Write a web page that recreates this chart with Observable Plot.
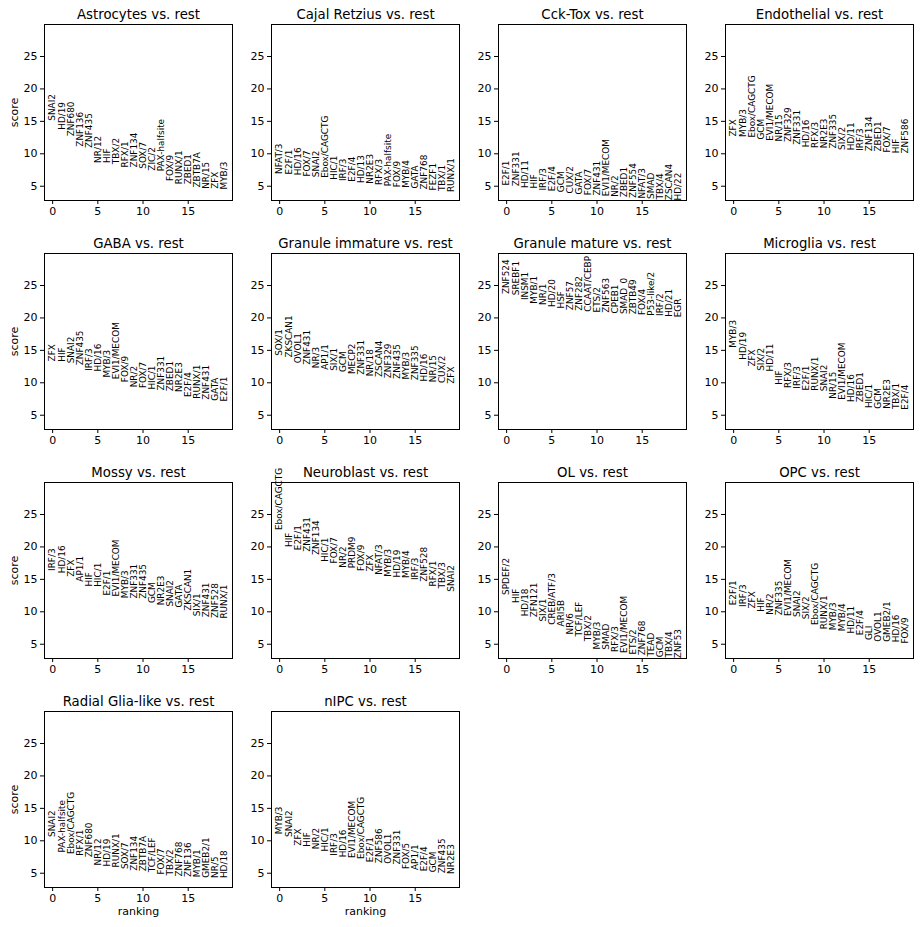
<!DOCTYPE html>
<html>
<head>
<meta charset="utf-8">
<script src="https://cdn.jsdelivr.net/npm/d3@7"></script>
<script src="https://cdn.jsdelivr.net/npm/@observablehq/plot@0.6"></script>
<style>
  body { margin: 0; background: #fff; }
  #fig { position: relative; width: 920px; height: 927px; background: #fff; font-family: "DejaVu Sans", sans-serif; }
  #fig svg { position: absolute; overflow: visible; }
</style>
</head>
<body>
<div id="fig"></div>
<script>
// Top 20 motifs per cluster, ranked by score (cluster vs. rest)
const groupTitles = ["Astrocytes", "Cajal Retzius", "Cck-Tox", "Endothelial", "GABA", "Granule immature",
  "Granule mature", "Microglia", "Mossy", "Neuroblast", "OL", "OPC", "Radial Glia-like", "nIPC"];

const astrocytesNames = ["SNAI2", "HD/19", "ZNF680", "ZNF136", "ZNF435", "NR/12", "HIF", "TBX/2", "RFX/1", "ZNF134",
  "SOX/7", "ZIC/2", "PAX-halfsite", "FOX/9", "RUNX/1", "ZBED1", "ZBTB7A", "NR/15", "ZFX", "MYB/3"];
const astrocytesScores = [15.1, 13.7, 12.7, 11.1, 10.9, 8.6, 8.6, 8.4, 7.9, 7.9, 7.7, 7.4, 7.3, 5.8, 5.3, 5.3, 4.8, 4.6, 4.6, 4.5];

const cajalNames = ["NFAT/3", "E2F/1", "HD/16", "FOX/7", "SNAI2", "Ebox/CAGCTG", "HIC/1", "IRF/3", "E2F/4", "HD/13",
  "NR2E3", "RFX/3", "PAX-halfsite", "FOX/9", "MYB/4", "GATA", "ZNF768", "FEZF1", "TBX/1", "RUNX/1"];
const cajalScores = [6.9, 6.8, 6.7, 6.5, 6.4, 6.3, 6.0, 5.8, 5.7, 5.5, 5.4, 5.2, 5.0, 4.85, 4.75, 4.65, 4.5, 4.35, 4.25, 4.1];

const cckToxNames = ["E2F/1", "ZNF331", "HD/11", "HIF", "IRF/3", "E2F/4", "GCM", "CUX/2", "GATA", "FOX/7",
  "ZNF431", "EVI1/MECOM", "NR/2", "ZBED1", "ZNF554", "NFAT/3", "SMAD", "TBX/4", "ZSCAN4", "HD/22"];
const cckToxScores = [5.1, 5.0, 4.74, 4.65, 4.34, 4.23, 4.08, 3.88, 3.73, 3.62, 3.57, 3.47, 3.36, 3.31, 3.2, 3.1, 3.05, 2.96, 2.85, 2.8];

const endothelialNames = ["ZFX", "MYB/3", "Ebox/CAGCTG", "GCM", "EVI1/MECOM", "NR/15", "ZNF329", "ZNF331", "HD/16", "RFX/3",
  "NR2E3", "ZNF335", "SIX/2", "HD/11", "IRF/3", "ZNF134", "ZBED1", "FOX/7", "HIF", "ZNF586"];
const endothelialScores = [12.67, 12.6, 12.5, 12.2, 12.0, 11.9, 11.8, 11.4, 11.0, 10.9, 10.85, 10.8, 10.6, 10.55, 10.45, 10.4, 10.35, 10.2, 10.1, 10.05];

const gabaNames = ["ZFX", "HIF", "SNAI2", "ZNF435", "IRF/3", "HD/16", "MYB/3", "EVI1/MECOM", "FOX/9", "NR/2",
  "FOX/7", "HIC/1", "ZNF331", "ZBED1", "NR2E3", "E2F/4", "RUNX/1", "ZNF431", "GATA", "E2F/1"];
const gabaScores = [13.3, 13.25, 13.0, 12.7, 11.85, 11.75, 10.8, 10.55, 10.1, 9.3, 9.2, 8.95, 8.8, 8.7, 8.6, 7.8, 7.55, 7.4, 7.25, 7.1];

const granuleImmatureNames = ["SOX/1", "ZKSCAN1", "OVOL1", "ZNF431", "NR/3", "AP1/1", "SIX/1", "GCM", "MECP2", "ZNF331",
  "NR/18", "ZSCAN4", "ZNF329", "ZNF435", "MYB/3", "ZNF335", "HD/16", "NR/15", "CUX/2", "ZFX"];
const granuleImmatureScores = [14.15, 13.9, 13.0, 12.8, 12.25, 12.0, 11.85, 11.65, 11.35, 11.25, 11.0, 10.9, 10.7, 10.6, 10.5, 10.4, 10.2, 10.1, 9.95, 9.85];

const granuleMatureNames = ["ZNF524", "SREBF1", "INSM1", "MYB/1", "NR/1", "HD/20", "HSF", "ZNF57", "ZNF282", "CCAAT/CEBP",
  "ETS/2", "ZNF563", "CPEB1", "SMAD_0", "ZBTB49", "FOX/4", "P53-like/2", "IRF/2", "HD/21", "EGR"];
const granuleMatureScores = [23.67, 23.5, 22.75, 22.2, 22.0, 21.7, 21.45, 21.2, 21.1, 20.95, 20.85, 20.8, 20.7, 20.6, 20.55, 20.45, 20.35, 20.3, 20.2, 20.1];

const microgliaNames = ["MYB/3", "HD/19", "ZFX", "SIX/2", "HD/11", "HIF", "RFX/3", "IRF/3", "E2F/1", "RUNX/1",
  "SNAI2", "NR/15", "EVI1/MECOM", "HD/16", "ZBED1", "HIC/1", "GCM", "NR2E3", "TBX/1", "E2F/4"];
const microgliaScores = [15.4, 13.55, 12.5, 11.85, 11.75, 9.7, 9.2, 9.1, 8.8, 8.78, 8.7, 7.55, 7.4, 7.05, 7.0, 6.1, 6.0, 5.98, 5.95, 5.85];

const mossyNames = ["IRF/3", "HD/16", "ZFX", "AP1/1", "HIF", "HIC/1", "E2F/1", "EVI1/MECOM", "MYB/3", "ZNF331",
  "ZNF435", "GCM", "NR2E3", "SNAI2", "GATA", "ZKSCAN1", "SIX/1", "ZNF431", "ZNF528", "RUNX/1"];
const mossyScores = [16.3, 15.95, 15.4, 14.65, 13.9, 13.85, 12.5, 12.35, 12.1, 12.05, 12.0, 11.35, 11.0, 10.8, 10.65, 10.15, 9.3, 9.15, 9.05, 8.95];

const neuroblastNames = ["Ebox/CAGCTG", "HIF", "E2F/1", "ZNF431", "ZNF134", "HIC/1", "FOX/7", "NR/2", "PRDM9", "FOX/9",
  "ZFX", "NFAT/3", "MYB/3", "HD/19", "MYB/4", "IRF/3", "ZNF528", "RFX/1", "TBX/3", "SNAI2"];
const neuroblastScores = [22.6, 20.0, 19.5, 19.25, 18.75, 17.7, 17.45, 16.8, 16.7, 16.3, 16.2, 15.7, 15.4, 15.3, 15.2, 14.9, 14.65, 13.9, 13.6, 13.1];

const olNames = ["SPDEF/2", "HIF", "HD/18", "ZFN121", "SIX/1", "CREB/ATF/3", "ARI5B", "NR/6", "TCF/LEF", "TBX/2",
  "MYB/3", "SMAD", "RFX/3", "EVI1/MECOM", "ETS/2", "ZNF768", "TEAD", "GCM", "TBX/4", "ZNF53"];
const olScores = [12.6, 11.35, 9.3, 9.15, 8.5, 8.0, 7.75, 6.5, 6.2, 5.45, 4.2, 4.15, 3.8, 3.65, 3.4, 3.3, 3.1, 3.0, 2.95, 2.85];

const opcNames = ["E2F/1", "IRF/3", "ZFX", "HIF", "NR/2", "ZNF335", "EVI1/MECOM", "SNAI2", "SIX/2", "Ebox/CAGCTG",
  "RUNX/1", "MYB/3", "MYB/4", "HD/11", "E2F/4", "GLI", "OVOL1", "GMEB2/1", "HD/16", "FOX/9"];
const opcScores = [11.0, 10.75, 10.5, 10.0, 9.55, 9.45, 9.35, 9.2, 8.85, 7.95, 7.3, 7.15, 7.0, 6.65, 6.4, 5.65, 5.4, 5.38, 5.3, 5.1];

const radialGliaNames = ["SNAI2", "PAX-halfsite", "Ebox/CAGCTG", "RFX/1", "ZNF680", "NR/12", "HD/19", "RUNX/1", "SOX/7", "ZNF134",
  "ZBTB7A", "TCF/LEF", "FOX/7", "TBX/2", "ZNF768", "ZNF136", "MYB/1", "GMEB2/1", "NR/5", "HD/18"];
const radialGliaScores = [10.6, 8.2, 7.95, 7.7, 7.45, 6.2, 6.05, 5.9, 5.65, 5.4, 5.3, 5.15, 4.8, 4.65, 4.5, 4.4, 4.38, 4.3, 4.28, 4.25];

const nipcNames = ["MYB/3", "SNAI2", "ZFX", "HIF", "NR/2", "HIC/1", "IRF/3", "HD/16", "EVI1/MECOM", "Ebox/CAGCTG",
  "E2F/1", "ZNF586", "OVOL1", "ZNF331", "FOX/5", "AP1/1", "E2F/4", "GCM", "ZNF435", "NR2E3"];
const nipcScores = [11.0, 10.6, 9.25, 9.1, 8.7, 8.35, 7.7, 7.45, 7.35, 7.2, 6.7, 6.55, 6.45, 6.35, 5.65, 5.5, 5.3, 5.15, 5.0, 4.9];

const xTicks = [0, 5, 10, 15];
const yTicks = [5, 10, 15, 20, 25];

const panels = [
  [astrocytesNames, astrocytesScores], [cajalNames, cajalScores], [cckToxNames, cckToxScores],
  [endothelialNames, endothelialScores], [gabaNames, gabaScores], [granuleImmatureNames, granuleImmatureScores],
  [granuleMatureNames, granuleMatureScores], [microgliaNames, microgliaScores], [mossyNames, mossyScores],
  [neuroblastNames, neuroblastScores], [olNames, olScores], [opcNames, opcScores],
  [radialGliaNames, radialGliaScores], [nipcNames, nipcScores]
];

// Shared y range: min score to max score, padded 30% on top
const allScores = panels.flatMap(([, s]) => s);
const yMin = d3.min(allScores);
const yMaxRaw = d3.max(allScores);
const yMax = yMaxRaw + 0.3 * (yMaxRaw - yMin);

const nCols = 4;
const frameW = 188, frameH = 176;
const mL = 36, mR = 3, mT = 24, mB = 29;
const colStep = 227, rowStep = 229;
const lastRowStart = 12;

const fig = document.getElementById("fig");

panels.forEach(([names, scores], i) => {
  const row = Math.floor(i / nCols), col = i % nCols;
  const data = names.map((name, k) => ({rank: k, score: scores[k], name}));
  const chart = Plot.plot({
    width: mL + frameW + mR,
    height: mT + frameH + mB,
    marginLeft: mL, marginRight: mR, marginTop: mT, marginBottom: mB,
    style: {fontFamily: "DejaVu Sans, sans-serif", fontSize: "11px", color: "black", background: "transparent", overflow: "visible"},
    x: {domain: [-0.9, names.length - 0.1]},
    y: {domain: [yMin, yMax]},
    marks: [
      Plot.axisX({ticks: xTicks, tickSize: 4, tickPadding: 3, fontSize: 11,
        label: i >= lastRowStart ? "ranking" : null, labelAnchor: "center", labelOffset: 27, labelArrow: "none"}),
      Plot.axisY({ticks: yTicks, tickSize: 4, tickPadding: 3, fontSize: 11,
        label: col === 0 ? "score" : null, labelAnchor: "center", labelOffset: 34, labelArrow: "none"}),
      Plot.text(data, {x: "rank", y: "score", text: "name", rotate: -90, textAnchor: "start",
        lineAnchor: "middle", fontSize: 8.9, fill: "black"}),
      Plot.frame({stroke: "black", strokeWidth: 1}),
      Plot.text([`${groupTitles[i]} vs. rest`], {frameAnchor: "top", dy: -6, lineAnchor: "bottom",
        fontSize: 13.3, fill: "black"})
    ]
  });
  chart.style.left = (44 - mL + col * colStep) + "px";
  chart.style.top = (24 - mT + row * rowStep) + "px";
  fig.appendChild(chart);
});
</script>
</body>
</html>
